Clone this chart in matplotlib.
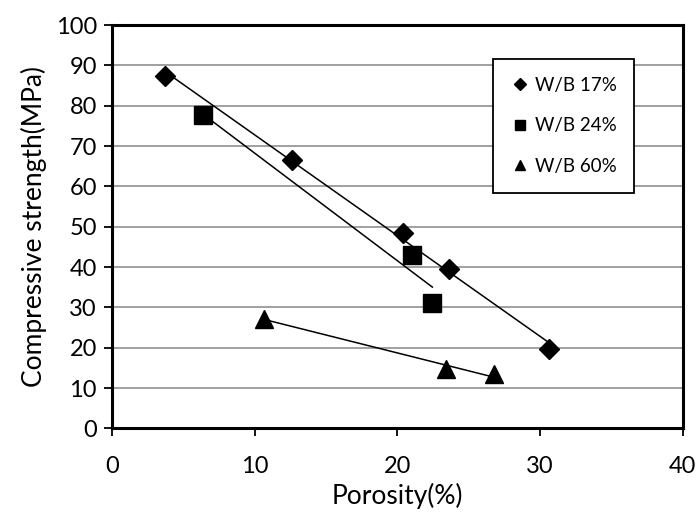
import numpy as np
import matplotlib
matplotlib.use("Agg")
import matplotlib.pyplot as plt

plt.rcParams['font.family'] = ['Lato', 'DejaVu Sans']

# porosity (%) and compressive strength (MPa)
wb17_x = [3.7, 12.6, 20.4, 23.6, 30.6]
wb17_y = [87.5, 66.6, 48.5, 39.4, 19.7]
wb24_x = [6.35, 21.0, 22.45]
wb24_y = [77.6, 43.1, 31.2]
wb60_x = [10.65, 23.4, 26.75]
wb60_y = [27.2, 14.8, 13.4]

series = [
    ("W/B 17%", wb17_x, wb17_y, "D", 10.5),
    ("W/B 24%", wb24_x, wb24_y, "s", 12.5),
    ("W/B 60%", wb60_x, wb60_y, "^", 13.5),
]

fig = plt.figure(figsize=(6.96, 5.13), dpi=100)
ax = fig.add_axes([0.161, 0.165, 0.820, 0.786])

for label, xs, ys, mk, ms in series:
    # linear trendline over the span of the data, like Excel
    k, b = np.polyfit(xs, ys, 1)
    xx = np.array([min(xs), max(xs)])
    ax.plot(xx, k * xx + b, color='black', lw=1.1, zorder=3)
    ax.plot(xs, ys, linestyle='none', marker=mk, ms=ms, color='black',
            label=label, zorder=4)

ax.set_xlim(0, 40)
ax.set_ylim(0, 100)
ax.set_xticks(range(0, 41, 10))
ax.set_yticks(range(0, 101, 10))
ax.yaxis.grid(True, color='#a0a0a0', lw=1.4)
ax.set_axisbelow(True)

for s in ax.spines.values():
    s.set_linewidth(2.2)
    s.set_color('black')
ax.tick_params(direction='out', length=6, width=1.3, labelsize=17, pad=5)
ax.tick_params(axis='x', pad=14)

ax.set_xlabel('Porosity(%)', fontsize=19, labelpad=4)
ax.set_ylabel('Compressive strength(MPa)', fontsize=19, labelpad=6)

leg = ax.legend(loc='upper left', bbox_to_anchor=(0.668, 0.916), fontsize=13.5,
                markerscale=0.55, handlelength=0.9, handletextpad=0.35,
                labelspacing=1.25, borderpad=0.95, borderaxespad=0,
                fancybox=False, framealpha=1, edgecolor='black')
leg.get_frame().set_linewidth(1.3)

fig.savefig('out.png', dpi=100)
